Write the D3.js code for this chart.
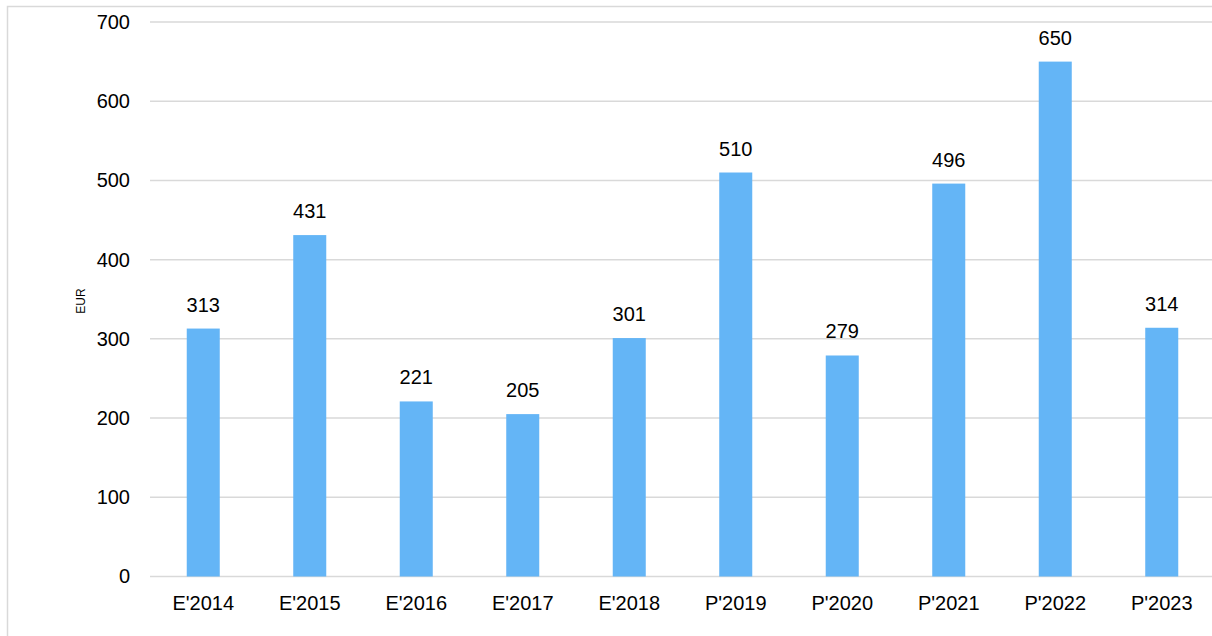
<!DOCTYPE html>
<html>
<head>
<meta charset="utf-8">
<script src="https://cdn.jsdelivr.net/npm/d3@7"></script>
<style>
  body { margin: 0; background: #fff; }
  text { font-family: "Liberation Sans", Arial, sans-serif; fill: #000; }
</style>
</head>
<body>
<div id="body"></div>
<script>
// chart data
var categories = ["E'2014", "E'2015", "E'2016", "E'2017", "E'2018", "P'2019", "P'2020", "P'2021", "P'2022", "P'2023"];
var values = [313, 431, 221, 205, 301, 510, 279, 496, 650, 314];
var yTicks = [0, 100, 200, 300, 400, 500, 600, 700];

var svgWidth = 1212;
var svgHeight = 636;

var margin = {
    top: 22,
    right: -3,
    bottom: 60,
    left: 150
};

var width = svgWidth - margin.left - margin.right;
var height = svgHeight - margin.top - margin.bottom;

var svg = d3.select("#body")
    .append("svg")
    .attr("width", svgWidth)
    .attr("height", svgHeight);

// outer frame
svg.append("rect")
    .attr("x", 7.5)
    .attr("y", 6.5)
    .attr("width", svgWidth + 20)
    .attr("height", svgHeight + 20)
    .attr("fill", "none")
    .attr("stroke", "#d9d9d9")
    .attr("stroke-width", 1.5);

var chart = svg.append("g")
    .attr("transform", `translate(${margin.left}, ${margin.top})`);

var x = d3.scaleBand()
    .domain(categories)
    .range([0, width])
    .paddingInner(0.69)
    .paddingOuter(0.345);

var y = d3.scaleLinear()
    .domain([0, 700])
    .range([height + 0.5, 0]);

// gridlines
chart.selectAll(".grid")
    .data(yTicks)
    .enter()
    .append("line")
    .attr("x1", 0)
    .attr("x2", width)
    .attr("y1", d => y(d))
    .attr("y2", d => y(d))
    .attr("stroke", "#d9d9d9")
    .attr("stroke-width", 1.5);

// y tick labels
var leftAxis = d3.axisLeft(y).tickValues(yTicks).tickSize(0).tickPadding(20);
chart.append("g")
    .call(leftAxis)
    .call(g => g.select(".domain").remove())
    .selectAll("text")
    .style("font-size", "20px")
    .style("font-family", "Liberation Sans, Arial, sans-serif")
    .attr("fill", "#000");

// x axis labels
var bottomAxis = d3.axisBottom(x).tickSize(0).tickPadding(20);
chart.append("g")
    .attr("transform", `translate(0, ${height})`)
    .call(bottomAxis)
    .call(g => g.select(".domain").remove())
    .selectAll("text")
    .style("font-size", "20px")
    .style("font-family", "Liberation Sans, Arial, sans-serif")
    .attr("fill", "#000");

// bars
chart.selectAll(".bar")
    .data(values)
    .enter()
    .append("rect")
    .attr("x", (d, i) => x(categories[i]))
    .attr("width", x.bandwidth())
    .attr("y", d => y(d))
    .attr("height", d => y(0) - y(d))
    .attr("fill", "#64b5f6");

// value labels
chart.selectAll(".label")
    .data(values)
    .enter()
    .append("text")
    .attr("x", (d, i) => x(categories[i]) + x.bandwidth() / 2)
    .attr("y", d => y(d) - 17)
    .attr("text-anchor", "middle")
    .style("font-size", "20px")
    .text(d => d);

// y axis title
svg.append("text")
    .attr("transform", "translate(85, 301) rotate(-90)")
    .attr("text-anchor", "middle")
    .style("font-size", "12px")
    .text("EUR");
</script>
</body>
</html>
